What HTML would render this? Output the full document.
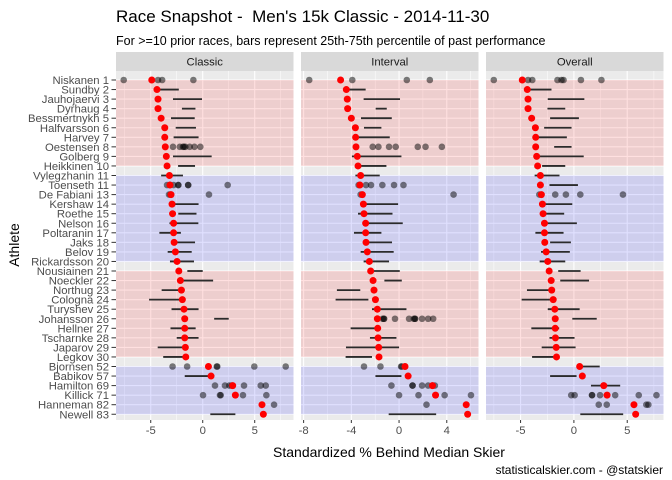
<!DOCTYPE html>
<html><head><meta charset="utf-8"><style>
body{margin:0;background:#fff;}
svg{display:block;font-family:"Liberation Sans",sans-serif;}
</style></head><body>
<svg id="chart" width="672" height="480" viewBox="0 0 672 480">
<text x="116" y="22" font-size="17" fill="#000" white-space="pre" style="white-space:pre">Race Snapshot -  Men's 15k Classic - 2014-11-30</text>
<text x="116" y="45" font-size="12.5" fill="#000">For &gt;=10 prior races, bars represent 25th-75th percentile of past performance</text>
<text x="389" y="457" font-size="14" text-anchor="middle" fill="#000">Standardized % Behind Median Skier</text>
<text transform="translate(19,245) rotate(-90)" font-size="14" text-anchor="middle" fill="#000">Athlete</text>
<text x="663" y="474" font-size="12" text-anchor="end" fill="#000">statisticalskier.com - @statskier</text>
<g id="plots"></g>
</svg>
<script>
const athletes = ["Niskanen 1","Sundby 2","Jauhojaervi 3","Dyrhaug 4","Bessmertnykh 5","Halfvarsson 6","Harvey 7","Oestensen 8","Golberg 9","Heikkinen 10","Vylegzhanin 11","Toenseth 11","De Fabiani 13","Kershaw 14","Roethe 15","Nelson 16","Poltaranin 17","Jaks 18","Belov 19","Rickardsson 20","Nousiainen 21","Noeckler 22","Northug 23","Cologna 24","Turyshev 25","Johansson 26","Hellner 27","Tscharnke 28","Japarov 29","Legkov 30","Bjornsen 52","Babikov 57","Hamilton 69","Killick 71","Hanneman 82","Newell 83"];
const panelNames = ["Classic","Interval","Overall"];
const bandStarts = [0,10,20,30];
const bandEnds = [9,19,29,35];
const bandColors = ["red","blue","red","blue"];

const classicMed = [-4.9,-4.4,-4.3,-4.3,-4.0,-3.65,-3.65,-3.6,-3.5,-3.43,-3.2,-3.15,-3.05,-2.95,-2.9,-2.8,-2.8,-2.75,-2.63,-2.47,-2.3,-2.15,-2.05,-1.96,-1.8,-1.73,-1.73,-1.73,-1.67,-1.63,0.55,0.8,2.88,3.14,5.7,5.83];
const classicLo = [null,-4.4,-2.86,-2.0,-3.05,-2.6,-2.8,null,-2.86,-2.37,-4.0,null,null,-2.95,-2.35,-3.2,-4.17,-2.75,-3.37,-3.15,-1.48,-2.15,-3.95,-5.16,-3.0,1.1,-3.1,-2.5,-4.33,-3.8,null,-1.73,null,null,null,0.73];
const classicHi = [null,-2.3,-0.07,-0.7,-0.77,-0.65,-0.4,null,0.86,-0.74,-1.9,null,null,-0.4,-0.6,-0.42,-2.1,-0.74,-1.06,-0.84,0,1.0,-2.05,-1.96,-0.4,2.5,-0.68,-0.4,-1.67,-1.63,null,0.8,null,null,null,3.14];
const classicPts = [[-7.6,-4.3,-3.9,-0.9],[],[],[],[],[],[],[-2.86,-2.2,-1.9,-1.8,-1.67,-1.25,-0.8,-0.23],[],[],[],[-3.43,-3.15,-2.8,-2.35,-2.35,-1.4,-1.4,2.4],[-3.24,-3.1,0.6],[],[],[],[],[],[],[],[],[],[],[],[],[],[],[],[],[],[-2.9,-1.5,1.35,1.4,4.96,7.98],[],[1.18,2.14,2.56,2.79,3.97,5.58,6.06],[0.03,1.66,1.73,3.87,6.12],[6.86],[]];

const intervalMed = [-4.9,-4.42,-4.34,-4.31,-4.0,-3.66,-3.64,-3.61,-3.5,-3.44,-3.22,-3.28,-3.08,-2.99,-2.94,-2.8,-2.8,-2.77,-2.66,-2.49,-2.38,-2.18,-2.1,-1.98,-1.82,-1.82,-1.79,-1.76,-1.71,-1.68,0.5,0.76,2.8,3.06,5.63,5.75];
const intervalLo = [null,-4.42,-2.97,-1.96,-3.19,-2.94,-3.64,null,-3.95,-3.44,-3.66,null,null,-2.99,-3.44,-2.8,-3.78,-2.77,-3.22,-2.97,-2.38,-1.23,-5.21,-5.32,-2.27,null,-4.06,-2.44,-4.45,-4.48,null,-1.98,null,null,null,-0.87];
const intervalHi = [null,-2.8,0.08,-1.03,-0.61,-1.48,-0.78,null,0.2,-1.06,-1.62,null,null,-0.08,-0.55,0.31,-1.48,-0.59,-0.45,-0.84,0.06,0.23,-3.25,-2.57,0.62,null,-1.79,-0.22,0,-2.27,null,0.2,null,null,null,3.11];
const intervalPts = [[-7.53,-3.92,0.65,2.58],[],[],[],[],[],[],[-2.21,-1.73,-0.84,-0.28,1.57,2.22,3.59],[],[],[],[-3.39,-2.77,-2.35,-1.4,-0.42,0.37],[-3.22,4.57],[],[],[],[],[],[],[],[],[],[],[],[],[-1.37,-1.26,-1.26,-0.34,0.84,1.24,1.34,1.34,1.93,2.44,2.86],[],[],[],[],[-2.94,-1.56,0.17,0.23],[],[-0.64,1.13,1.13,1.93,2.44,2.8,3.0],[0,1.63,3.82,6.03],[2.3],[]];

const overallMed = [-4.84,-4.37,-4.3,-4.3,-3.96,-3.61,-3.58,-3.58,-3.49,-3.4,-3.14,-3.14,-3.05,-2.95,-2.89,-2.76,-2.76,-2.73,-2.6,-2.45,-2.32,-2.13,-2.08,-1.94,-1.79,-1.75,-1.75,-1.73,-1.66,-1.63,0.54,0.79,2.8,3.11,5.63,5.79];
const overallLo = [null,-4.37,-2.45,-2.48,-2.23,-2.79,-3.58,-1.85,-3.49,-2.98,-3.68,-2.29,null,-2.95,-2.89,-2.76,-3.61,-2.23,-3.08,-3.21,-1.47,-1.28,-4.4,-4.9,-2.45,-0.15,-3.99,-2.29,-3.02,-3.92,0.54,-2.23,1.6,null,null,0.6];
const overallHi = [null,-2.1,0.98,-0.81,0.47,-0.22,-0.66,-0.22,0.92,-0.81,-1.35,0.38,null,-0.15,-0.91,0.28,-0.97,-0.28,-0.38,-0.81,0.63,1.42,-2.08,-1.94,0.54,2.14,-1.38,0.06,0.16,-1.63,2.42,0.25,4.34,null,null,4.62];
const overallPts = [[-7.51,-4.3,-3.9,-1.54,-1.16,-0.97,0.66,2.58],[],[],[],[],[],[],[],[],[],[],[],[-3.24,-1.75,-0.75,0.6,4.6],[],[],[],[],[],[],[],[],[],[],[],[],[],[],[],[],[],[],[],[],[-0.25,0.07,1.7,1.7,2.45,3.87,6.08,7.74],[2.33,3.08,6.79,6.98],[]];

const classicTicks = [-5,0,5];
const intervalTicks = [-8,-4,0,4];
const overallTicks = [-5,0,5];
const classicDomain = [-8.34,8.73];
const intervalDomain = [-8.22,6.66];
const overallDomain = [-8.24,8.4];

const NS = "http://www.w3.org/2000/svg";
const root = document.getElementById("plots");
const PT = 71, PB = 420, ROW0 = 80, ROWSTEP = 9.55, PW = 177.5;
const panelLeft = [116, 301, 486];
function yPos(i){ return ROW0 + i*ROWSTEP; }
function mk(tag, attrs, parent){
  const e = document.createElementNS(NS, tag);
  for (const k in attrs) e.setAttribute(k, attrs[k]);
  (parent||root).appendChild(e);
  return e;
}
const panels = [
  {med:classicMed, lo:classicLo, hi:classicHi, pts:classicPts, ticks:classicTicks, dom:classicDomain, minor:[-7.5,-2.5,2.5,7.5]},
  {med:intervalMed, lo:intervalLo, hi:intervalHi, pts:intervalPts, ticks:intervalTicks, dom:intervalDomain, minor:[-6,-2,2,6]},
  {med:overallMed, lo:overallLo, hi:overallHi, pts:overallPts, ticks:overallTicks, dom:overallDomain, minor:[-7.5,-2.5,2.5,7.5]}
];

athletes.forEach((a,i)=>{
  const t = mk("text",{x:109,y:yPos(i)+4,"font-size":11.3,"text-anchor":"end",fill:"#4d4d4d"});
  t.textContent = a;
  
  
  const tk = mk("line",{x1:111.5,x2:116,y1:yPos(i),y2:yPos(i),stroke:"#333","stroke-width":1});
  
  
});

panels.forEach((p,pi)=>{
  const L = panelLeft[pi];
  const g = mk("g",{});
  
  
  const xs = v => L + (v - p.dom[0]) / (p.dom[1]-p.dom[0]) * PW;
  const strip = mk("rect",{x:L,y:52,width:PW,height:19,fill:"#d9d9d9"},g);
  
  
  const st = mk("text",{x:L+PW/2,y:65.5,"font-size":11.3,"text-anchor":"middle",fill:"#1a1a1a"},g);
  st.textContent = panelNames[pi];
  
  
  const bg = mk("rect",{x:L,y:PT,width:PW,height:PB-PT,fill:"#ebebeb"},g);
  
  
  p.minor.forEach(v=>{ const x=xs(v); if(x>L&&x<L+PW){ const l=mk("line",{x1:x,x2:x,y1:PT,y2:PB,stroke:"#fff","stroke-width":0.5},g);
      }});
  p.ticks.forEach(v=>{ const x=xs(v);
    const l=mk("line",{x1:x,x2:x,y1:PT,y2:PB,stroke:"#fff","stroke-width":1.1},g);
    
    
    const tk=mk("line",{x1:x,x2:x,y1:PB,y2:PB+3,stroke:"#333"},g);
    
    
    const tl=mk("text",{x:x,y:PB+14,"font-size":11.3,"text-anchor":"middle",fill:"#4d4d4d"},g);
    tl.textContent = v;
    
    
  });
  athletes.forEach((a,i)=>{ const l=mk("line",{x1:L,x2:L+PW,y1:yPos(i),y2:yPos(i),stroke:"#fff","stroke-width":1.1},g);
      });
  bandStarts.forEach((s,bi)=>{
    const r = mk("rect",{x:L,y:yPos(s),width:PW,height:yPos(bandEnds[bi])-yPos(s),fill:bandColors[bi]==="red"?"#ff0000":"#0000ff","fill-opacity":0.12},g);
    
    
  });
  p.med.forEach((m,i)=>{
    if(p.lo[i]!==null && p.hi[i]!==null){
      const s = mk("line",{x1:xs(p.lo[i]),x2:xs(p.hi[i]),y1:yPos(i),y2:yPos(i),stroke:"#2b2b2b","stroke-width":1.8},g);
      
      
    }
  });
  p.pts.forEach((arr,i)=>{ arr.forEach(v=>{
    const c = mk("circle",{cx:xs(v),cy:yPos(i),r:3.3,fill:"#000","fill-opacity":0.5},g);
    
    
  });});
  p.med.forEach((m,i)=>{
    const c = mk("circle",{cx:xs(m),cy:yPos(i),r:3.5,fill:"#ff0000"},g);
    
    
  });
});
</script>
</body></html>
